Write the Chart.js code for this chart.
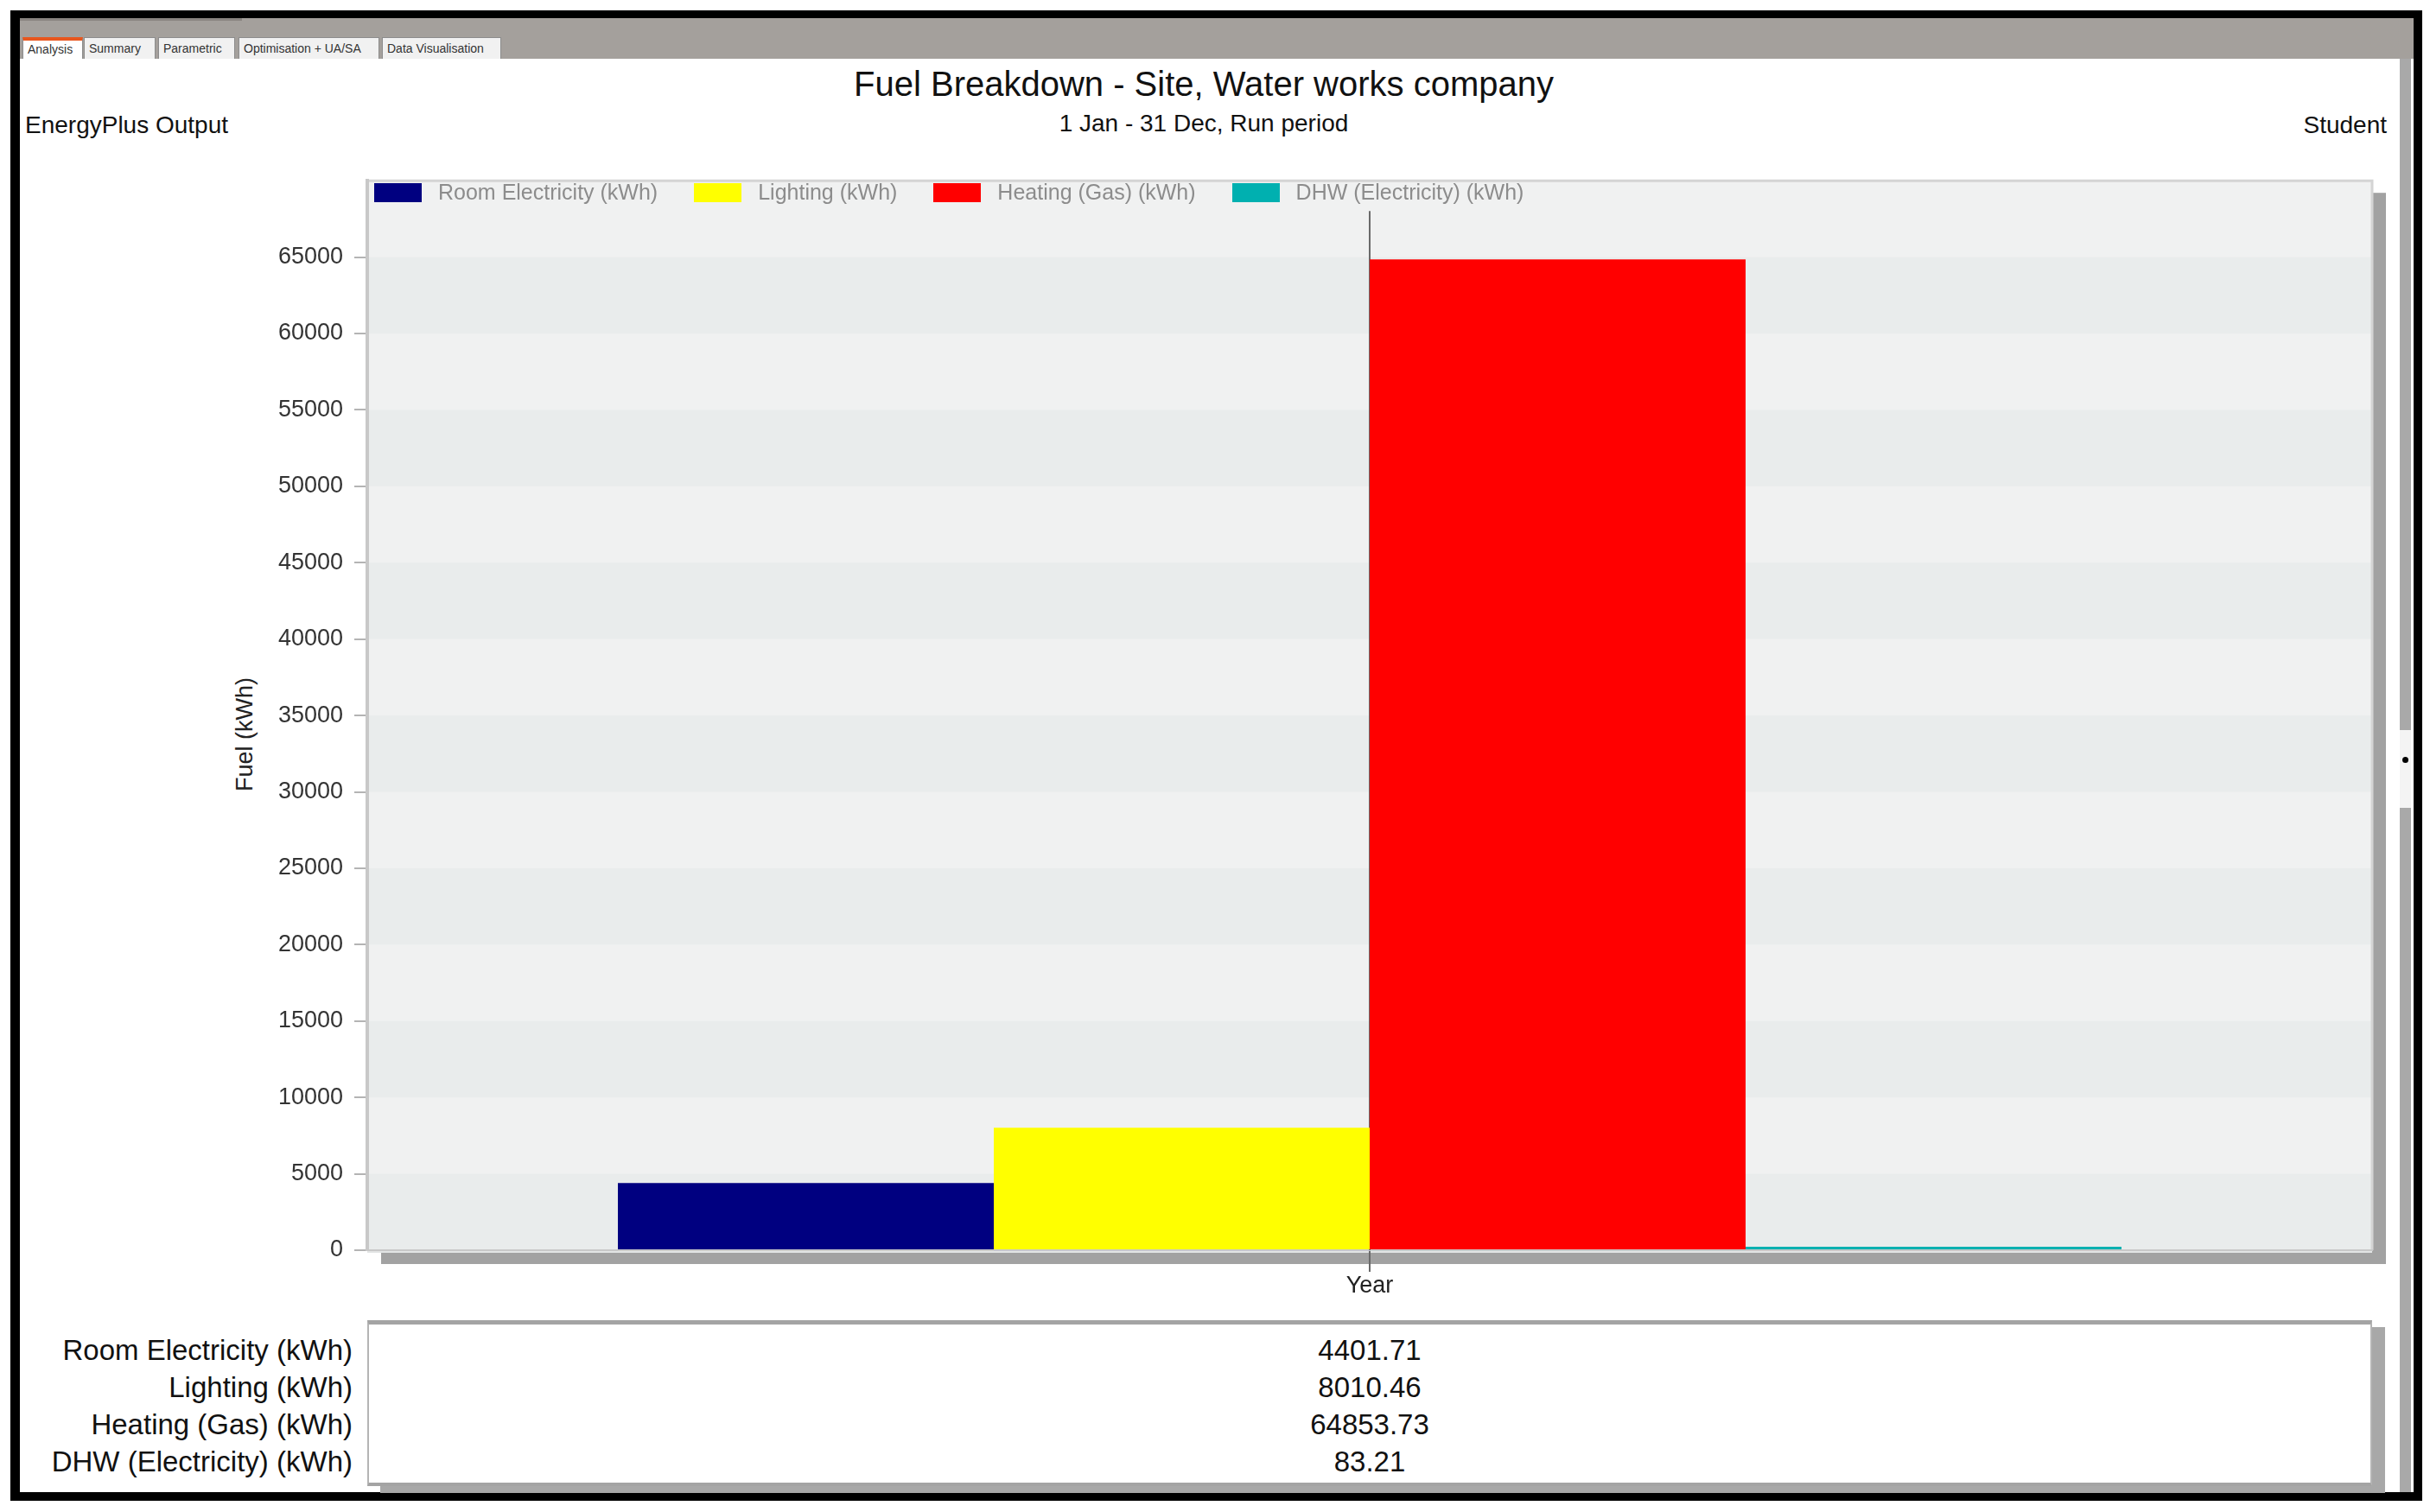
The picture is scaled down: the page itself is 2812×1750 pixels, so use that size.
<!DOCTYPE html>
<html>
<head>
<meta charset="utf-8">
<script src="https://cdn.jsdelivr.net/npm/chart.js@4.4.1/dist/chart.umd.min.js"></script>
<style>
  html, body { margin: 0; padding: 0; background: #fff; }
  body { width: 2812px; height: 1750px; position: relative; overflow: hidden;
         font-family: "Liberation Sans", Arial, sans-serif; color: #111; }
  .abs { position: absolute; }
  #frame { left: 12px; top: 12px; width: 2791px; height: 1725px; box-sizing: border-box;
           border: solid #000; border-width: 9px 10px 10px 11px; }
  #strip { left: 23px; top: 21px; width: 2770px; height: 47px; background: #a4a09c; }
  #strip2 { left: 23px; top: 21px; width: 257px; height: 3px; background: #8a8581; }
  .tab { top: 43px; height: 25px; box-sizing: border-box; background: #f1f1f1;
         border: 1px solid #8c8c8c; border-bottom: none; font-size: 14px; line-height: 24px;
         padding-left: 5px; color: #333; white-space: nowrap; }
  .tab.active { background: #fff; border-top: 4px solid #e8561e; line-height: 20px; }
  #scroll { left: 2777px; top: 68px; width: 13px; height: 1659px; background: #a9a9a9; }
  #thumb { left: 2777px; top: 845px; width: 13px; height: 90px; background: #f4f4f4; }
  #dot { left: 2780px; top: 876px; width: 7px; height: 7px; border-radius: 50%; background: #000; }
  #title { left: 23px; width: 2740px; top: 73px; text-align: center; font-size: 40px; line-height: 48px; }
  #subtitle { left: 23px; width: 2740px; top: 126px; text-align: center; font-size: 28px; line-height: 34px; }
  #left { left: 29px; top: 128px; font-size: 28px; line-height: 34px; }
  #right { right: 50px; top: 128px; font-size: 28px; line-height: 34px; }
  #ytitle { left: 183px; top: 834px; width: 200px; height: 32px; line-height: 32px; text-align: center;
            font-size: 27px; color: #222; transform: rotate(-90deg); }
  #legend { left: 433px; top: 211px; height: 23px; display: flex; align-items: center; gap: 42px; z-index: 2; }
  .item { display: flex; align-items: center; font-size: 25px; color: #8c8c8c; white-space: nowrap; }
  .box { width: 55px; height: 22px; margin-right: 19px; }
  #chart { left: 0; top: 180px; }
  #table { left: 425px; top: 1528px; width: 2320px; height: 192px; box-sizing: border-box; background: #fff;
           border-top: 5px solid #a4a4a4; border-left: 2px solid #b4b4b4; border-right: 2px solid #b4b4b4;
           border-bottom: 4px solid #a4a4a4; box-shadow: 15px 8px 0 #a8a8a8; }
  .row { font-size: 33px; line-height: 43px; white-space: nowrap; }
  #labels { left: 23px; width: 385px; top: 1541px; text-align: right; }
  #values { left: 425px; width: 2320px; top: 1541px; text-align: center; }
</style>
</head>
<body>
<div class="abs" id="frame"></div>
<div class="abs" id="strip"></div>
<div class="abs" id="strip2"></div>
<div class="abs tab active" style="left:26px;width:70px;">Analysis</div>
<div class="abs tab" style="left:97px;width:83px;">Summary</div>
<div class="abs tab" style="left:183px;width:89px;">Parametric</div>
<div class="abs tab" style="left:276px;width:163px;">Optimisation + UA/SA</div>
<div class="abs tab" style="left:442px;width:138px;">Data Visualisation</div>
<div class="abs" id="scroll"></div>
<div class="abs" id="thumb"></div>
<div class="abs" id="dot"></div>

<div class="abs" id="title">Fuel Breakdown - Site, Water works company</div>
<div class="abs" id="subtitle">1 Jan - 31 Dec, Run period</div>
<div class="abs" id="left">EnergyPlus Output</div>
<div class="abs" id="right">Student</div>
<div class="abs" id="ytitle">Fuel (kWh)</div>

<canvas class="abs" id="chart" width="2812" height="1337"></canvas>
<div class="abs" id="legend"></div>

<div class="abs" id="table"></div>
<div class="abs" id="labels"></div>
<div class="abs" id="values"></div>

<script>
// data
const categories = ['Year'];
const seriesNames = ['Room Electricity (kWh)', 'Lighting (kWh)', 'Heating (Gas) (kWh)', 'DHW (Electricity) (kWh)'];
const seriesValues = [4401.71, 8010.46, 64853.73, 83.21];
const yMax = 70000;
const yStep = 5000;

const seriesColors = ['#000080', '#ffff00', '#ff0000', '#00b0b0'];
const FONT = '"Liberation Sans", Arial, sans-serif';

// legend + table (html text)
const legend = document.getElementById('legend');
const labels = document.getElementById('labels');
const values = document.getElementById('values');
seriesNames.forEach(function (name, i) {
  const item = document.createElement('div');
  item.className = 'item';
  item.innerHTML = '<span class="box" style="background:' + seriesColors[i] + '"></span>' + name;
  legend.appendChild(item);

  const l = document.createElement('div');
  l.className = 'row';
  l.textContent = name;
  labels.appendChild(l);

  const v = document.createElement('div');
  v.className = 'row';
  v.textContent = seriesValues[i].toFixed(2);
  values.appendChild(v);
});

// plot background: drop shadow + alternating bands, and the centre line
const plotBg = {
  id: 'plotBg',
  beforeDraw(chart) {
    const { ctx, chartArea: a, scales: { y } } = chart;
    ctx.save();
    ctx.fillStyle = '#a2a2a2';
    ctx.fillRect(a.left + 16, a.top + 14, a.width, a.height + 2);
    ctx.fillStyle = '#e2e4e4';
    ctx.fillRect(a.left, a.bottom, a.width, 3);
    ctx.fillStyle = '#f0f1f1';
    ctx.fillRect(a.left, a.top, a.width, a.height);
    const ticks = y.ticks;
    for (let i = 0; i < ticks.length - 1; i += 2) {
      const y0 = y.getPixelForValue(ticks[i].value);
      const y1 = y.getPixelForValue(ticks[i + 1].value);
      ctx.fillStyle = '#e9ecec';
      ctx.fillRect(a.left, y1, a.width, y0 - y1);
    }
    ctx.strokeStyle = '#d4d4d4';
    ctx.lineWidth = 3;
    ctx.beginPath();
    ctx.moveTo(a.left, a.top);
    ctx.lineTo(a.right, a.top);
    ctx.lineTo(a.right, a.bottom);
    ctx.stroke();
    ctx.restore();
  },
  beforeDatasetsDraw(chart) {
    const { ctx, chartArea: a, scales: { x } } = chart;
    const px = x.getPixelForValue(0);
    ctx.save();
    ctx.strokeStyle = '#6a6a6a';
    ctx.lineWidth = 2;
    ctx.beginPath();
    ctx.moveTo(px, a.top + 35);
    ctx.lineTo(px, a.bottom);
    ctx.stroke();
    ctx.restore();
  }
};

const ctx = document.getElementById('chart').getContext('2d');
const chart = new Chart(ctx, {
  type: 'bar',
  data: {
    labels: categories,
    datasets: seriesNames.map(function (name, i) {
      return {
        label: name,
        data: [seriesValues[i]],
        backgroundColor: seriesColors[i],
        borderWidth: 0,
        categoryPercentage: 0.75,
        barPercentage: 1,
        minBarLength: 4
      };
    })
  },
  options: {
    responsive: false,
    animation: false,
    devicePixelRatio: 1,
    layout: {
      autoPadding: false,
      padding: { top: 23, left: 267, right: 67, bottom: 0 }
    },
    plugins: {
      legend: { display: false },
      tooltip: { enabled: false }
    },
    scales: {
      x: {
        grid: { display: true, drawOnChartArea: false, offset: false, tickLength: 25, color: '#6a6a6a', lineWidth: 2 },
        border: { color: '#c8c8c8', width: 2 },
        ticks: { padding: 0, color: '#222', font: { size: 27, family: FONT } },
        afterFit: function (s) { s.height = 70; }
      },
      y: {
        min: 0,
        max: yMax,
        ticks: {
          stepSize: yStep,
          padding: 13,
          color: '#333',
          font: { size: 27, family: FONT },
          callback: function (v) { return v === yMax ? null : String(v); }
        },
        grid: { drawOnChartArea: false, tickLength: 15, color: '#b4b4b4', lineWidth: 2 },
        border: { color: '#c8c8c8', width: 4 },
        afterFit: function (s) { s.width = 158; }
      }
    }
  },
  plugins: [plotBg]
});
</script>
</body>
</html>
